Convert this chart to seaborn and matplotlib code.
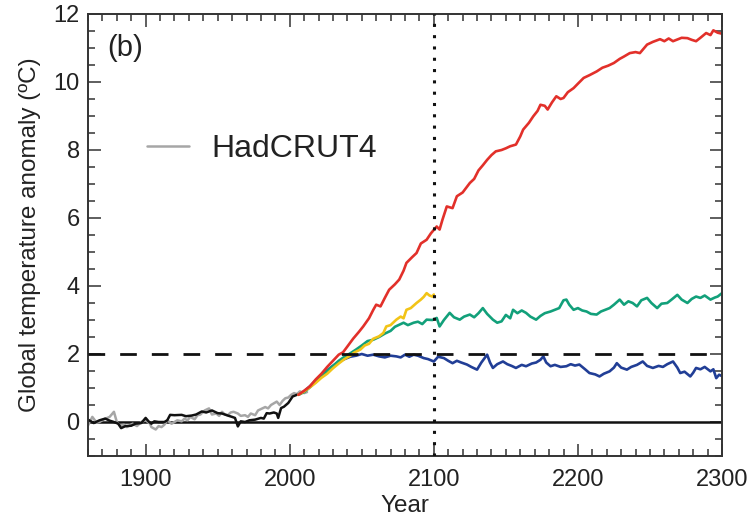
import matplotlib
matplotlib.use("Agg")
import matplotlib.pyplot as plt
import seaborn as sns
import pandas as pd

# ---------------- data ----------------
black_years = [1860, 1864, 1868, 1872, 1875, 1878, 1881, 1883, 1886, 1890, 1893, 1897, 1900, 1902, 1904, 1906,
               1909, 1913, 1915, 1917, 1920, 1925, 1928, 1932, 1935, 1939, 1942, 1946, 1950, 1953, 1957, 1960,
               1962, 1964, 1966, 1969, 1972, 1976, 1980, 1982, 1984, 1986, 1989, 1991, 1992, 1994, 1996, 1999,
               2002, 2005]
black_vals = [0.07, -0.03, 0.05, 0.10, 0.04, 0.00, -0.05, -0.18, -0.12, -0.11, -0.05, -0.03, 0.12, 0.02, -0.05, 0.02,
              0.00, 0.00, 0.05, 0.21, 0.20, 0.21, 0.17, 0.19, 0.22, 0.31, 0.28, 0.34, 0.26, 0.25, 0.19, 0.15,
              0.12, -0.13, 0.02, 0.00, 0.05, 0.07, 0.12, 0.10, 0.26, 0.25, 0.28, 0.25, 0.12, 0.41, 0.45, 0.56,
              0.75, 0.80]

gray_years = [1860, 1863, 1866, 1868, 1871, 1875, 1878, 1880, 1882, 1885, 1887, 1891, 1894, 1897, 1900, 1903,
              1904, 1907, 1909, 1911, 1913, 1915, 1918, 1920, 1922, 1925, 1927, 1929, 1931, 1934, 1936, 1938,
              1941, 1944, 1946, 1949, 1951, 1953, 1955, 1957, 1959, 1961, 1964, 1966, 1969, 1971, 1973, 1976,
              1978, 1980, 1983, 1985, 1987, 1989, 1991, 1993, 1995, 1997, 1999, 2001, 2003, 2005, 2007, 2010, 2012]
gray_vals = [-0.10, 0.15, -0.02, 0.00, 0.08, 0.15, 0.30, 0.00, -0.10, -0.08, -0.15, -0.05, -0.12, 0.00, 0.05, -0.05,
             -0.15, -0.22, -0.12, -0.15, -0.08, 0.05, -0.05, 0.00, 0.05, 0.02, 0.10, 0.05, 0.15, 0.08, 0.20, 0.22,
             0.34, 0.40, 0.22, 0.25, 0.18, 0.30, 0.22, 0.20, 0.28, 0.30, 0.25, 0.18, 0.20, 0.15, 0.25, 0.20,
             0.34, 0.38, 0.44, 0.40, 0.50, 0.55, 0.60, 0.50, 0.62, 0.70, 0.72, 0.80, 0.85, 0.82, 0.90, 0.85, 0.88]

red_years = [2006, 2010, 2014, 2018, 2022, 2026, 2030, 2034, 2037, 2040, 2044, 2048, 2051, 2055, 2058, 2060,
             2063, 2066, 2069, 2073, 2076, 2079, 2081, 2085, 2088, 2091, 2095, 2098, 2100, 2102, 2104, 2106,
             2109, 2113, 2116, 2120, 2125, 2128, 2131, 2134, 2137, 2140, 2143, 2147, 2150, 2153, 2157, 2160,
             2162, 2166, 2169, 2172, 2174, 2177, 2179, 2182, 2185, 2188, 2190, 2193, 2197, 2200, 2204, 2208,
             2213, 2217, 2221, 2225, 2229, 2232, 2236, 2240, 2243, 2246, 2248, 2252, 2257, 2260, 2263, 2266,
             2269, 2272, 2276, 2279, 2282, 2285, 2289, 2292, 2294, 2297, 2300]
red_vals = [0.80, 0.92, 1.05, 1.25, 1.42, 1.62, 1.80, 1.98, 2.05, 2.22, 2.45, 2.65, 2.81, 3.05, 3.30, 3.45,
            3.40, 3.65, 3.89, 4.05, 4.19, 4.45, 4.68, 4.85, 4.97, 5.25, 5.36, 5.55, 5.65, 5.75, 5.66, 5.95,
            6.34, 6.29, 6.64, 6.75, 7.03, 7.15, 7.40, 7.55, 7.71, 7.85, 7.96, 8.00, 8.05, 8.11, 8.16, 8.40,
            8.60, 8.80, 8.99, 9.15, 9.33, 9.30, 9.19, 9.40, 9.58, 9.50, 9.53, 9.70, 9.82, 9.95, 10.12, 10.20,
            10.31, 10.42, 10.48, 10.56, 10.68, 10.75, 10.85, 10.88, 10.85, 11.00, 11.10, 11.18, 11.26, 11.20, 11.28, 11.20,
            11.25, 11.30, 11.29, 11.24, 11.20, 11.30, 11.44, 11.38, 11.52, 11.45, 11.42]

yellow_years = [2006, 2010, 2014, 2018, 2022, 2026, 2030, 2034, 2038, 2042, 2045, 2049, 2052, 2055, 2058, 2062,
                2065, 2067, 2070, 2074, 2077, 2079, 2081, 2084, 2088, 2091, 2093, 2095, 2097, 2099, 2100]
yellow_vals = [0.80, 0.90, 1.02, 1.15, 1.30, 1.42, 1.58, 1.72, 1.85, 1.95, 2.05, 2.13, 2.25, 2.30, 2.45, 2.52,
               2.62, 2.81, 2.85, 3.01, 3.10, 3.05, 3.30, 3.35, 3.50, 3.60, 3.68, 3.79, 3.72, 3.69, 3.75]

green_years = [2006, 2010, 2014, 2018, 2022, 2026, 2030, 2034, 2038, 2042, 2046, 2050, 2054, 2058, 2062, 2066,
               2070, 2073, 2076, 2079, 2082, 2086, 2089, 2092, 2095, 2099, 2102, 2104, 2107, 2111, 2114, 2118,
               2121, 2125, 2128, 2131, 2134, 2137, 2141, 2144, 2147, 2150, 2153, 2155, 2158, 2161, 2164, 2167,
               2171, 2174, 2177, 2181, 2184, 2187, 2190, 2192, 2194, 2197, 2200, 2203, 2206, 2209, 2213, 2216,
               2219, 2222, 2225, 2229, 2232, 2235, 2238, 2241, 2244, 2248, 2251, 2255, 2258, 2262, 2265, 2269,
               2272, 2276, 2279, 2282, 2285, 2288, 2292, 2295, 2297, 2300]
green_vals = [0.80, 0.88, 1.02, 1.18, 1.35, 1.50, 1.65, 1.80, 1.92, 2.02, 2.13, 2.25, 2.38, 2.42, 2.50, 2.60,
              2.68, 2.80, 2.86, 2.92, 2.85, 2.92, 2.95, 2.88, 3.01, 3.00, 3.06, 2.81, 3.00, 3.21, 3.08, 3.01,
              3.10, 3.16, 3.08, 3.20, 3.35, 3.18, 3.01, 2.92, 2.96, 3.15, 3.05, 3.30, 3.20, 3.28, 3.21, 3.10,
              3.01, 3.12, 3.20, 3.25, 3.30, 3.35, 3.58, 3.60, 3.45, 3.30, 3.35, 3.28, 3.25, 3.18, 3.16, 3.25,
              3.30, 3.35, 3.45, 3.60, 3.45, 3.55, 3.50, 3.40, 3.58, 3.65, 3.50, 3.35, 3.48, 3.50, 3.60, 3.74,
              3.60, 3.50, 3.62, 3.69, 3.65, 3.72, 3.60, 3.66, 3.69, 3.79]

blue_years = [2006, 2010, 2014, 2018, 2022, 2026, 2030, 2034, 2038, 2042, 2046, 2050, 2054, 2058, 2062, 2066,
              2070, 2074, 2077, 2080, 2083, 2086, 2089, 2093, 2096, 2100, 2103, 2107, 2110, 2113, 2116, 2119,
              2123, 2126, 2130, 2133, 2137, 2139, 2141, 2144, 2148, 2151, 2154, 2157, 2161, 2164, 2168, 2171,
              2174, 2176, 2178, 2181, 2184, 2188, 2192, 2195, 2198, 2201, 2205, 2208, 2212, 2215, 2218, 2222,
              2225, 2227, 2230, 2234, 2237, 2241, 2245, 2248, 2252, 2256, 2259, 2262, 2266, 2269, 2271, 2274,
              2278, 2280, 2282, 2285, 2288, 2292, 2294, 2296, 2298, 2300]
blue_vals = [0.80, 0.90, 1.05, 1.22, 1.38, 1.52, 1.65, 1.77, 1.85, 1.92, 1.95, 2.00, 1.95, 1.98, 1.93, 1.90,
             1.95, 1.93, 1.90, 1.98, 1.92, 1.98, 1.95, 1.88, 1.85, 1.78, 1.92, 1.88, 1.80, 1.73, 1.80, 1.75,
             1.69, 1.62, 1.54, 1.75, 1.98, 1.75, 1.59, 1.70, 1.78, 1.70, 1.65, 1.59, 1.68, 1.64, 1.72, 1.75,
             1.83, 1.93, 1.75, 1.64, 1.68, 1.62, 1.64, 1.70, 1.66, 1.69, 1.55, 1.44, 1.40, 1.34, 1.42, 1.49,
             1.60, 1.73, 1.60, 1.54, 1.62, 1.68, 1.78, 1.65, 1.59, 1.65, 1.62, 1.70, 1.78, 1.60, 1.44, 1.48,
             1.34, 1.45, 1.59, 1.55, 1.62, 1.49, 1.55, 1.29, 1.39, 1.35]

x_ticks = [1900, 2000, 2100, 2200, 2300]
y_ticks = [0, 2, 4, 6, 8, 10, 12]
legend_label = "HadCRUT4"
panel_label = "(b)"

# ---------------- styling ----------------
sns.set_style("ticks")
plt.rcParams["font.family"] = ["Liberation Sans", "DejaVu Sans"]

fig = plt.figure(figsize=(7.52, 5.17), dpi=100)
ax = fig.add_axes([88 / 752, 61 / 517, 634 / 752, 442 / 517])

lw_c = 1.9
sns.lineplot(x=gray_years, y=gray_vals, ax=ax, color="#a6a6a6", lw=1.8, label=legend_label)
sns.lineplot(x=black_years, y=black_vals, ax=ax, color="#111111", lw=1.8, legend=False)
sns.lineplot(x=blue_years, y=blue_vals, ax=ax, color="#213e96", lw=lw_c, legend=False)
sns.lineplot(x=green_years, y=green_vals, ax=ax, color="#12a07a", lw=lw_c, legend=False)
sns.lineplot(x=yellow_years, y=yellow_vals, ax=ax, color="#f2c417", lw=lw_c, legend=False)
sns.lineplot(x=red_years, y=red_vals, ax=ax, color="#e2302a", lw=lw_c, legend=False)

ax.axhline(0, color="#111111", lw=1.8, zorder=1)
ax.axhline(2, color="#111111", lw=2.0, ls=(0, (6.0, 5.4)), zorder=5)
ax.axvline(2100, color="#111111", lw=2.2, ls=(0, (1, 2.7)), zorder=5)

ax.set_xlim(1860, 2300)
ax.set_ylim(-1, 12)
ax.set_xticks(x_ticks)
ax.set_yticks(y_ticks)
ax.set_xticks(range(1860, 2301, 10), minor=True)
ax.set_yticks([v / 2 for v in range(-2, 25)], minor=True)

ax.tick_params(which="both", direction="in", top=True, right=True, colors="#333333",
               labelcolor="#222222", labelsize=17, width=1.1)
ax.tick_params(which="major", length=9)
ax.tick_params(which="minor", length=5)
ax.tick_params(axis="x", which="major", pad=9)
ax.tick_params(axis="y", which="major", pad=6)
for s in ax.spines.values():
    s.set_color("#333333")
    s.set_linewidth(1.4)

ax.set_xlabel("Year", fontsize=17.5, color="#222222", labelpad=3)
ax.set_ylabel("Global temperature anomaly (\u00baC)", fontsize=17.5, color="#222222", labelpad=9)

ax.text(0.03, 0.955, panel_label, transform=ax.transAxes, fontsize=21, color="#222222",
        ha="left", va="top")

ax.legend(loc="center left", bbox_to_anchor=((147 - 88) / 634, (456 - 149) / 442),
          frameon=False, fontsize=23, handlelength=1.3, handletextpad=0.7,
          borderpad=0, borderaxespad=0, labelcolor="#222222")

fig.savefig("out.png", dpi=100)
